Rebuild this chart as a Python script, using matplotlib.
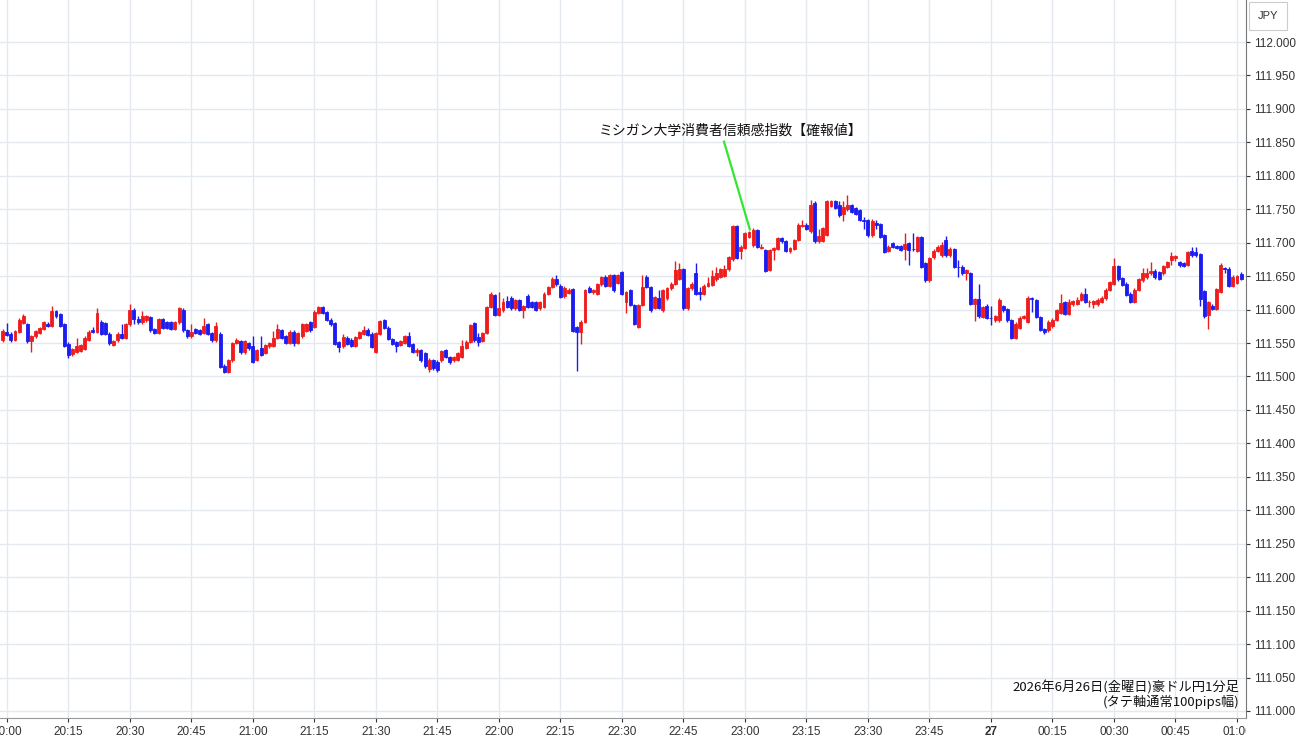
import numpy as np
import matplotlib.pyplot as plt
from matplotlib.transforms import Bbox, TransformedBbox

# 豪ドル円 1分足 (19:59 -> 01:01) ; prices in 0.001 JPY above 111.000
open_pts = [
    554, 567, 564, 555, 567, 580, 578, 553, 560, 565,
    571, 579, 576, 598, 593, 578, 549, 533, 537, 538,
    541, 555, 569, 567, 582, 580, 564, 547, 554, 564,
    558, 578, 600, 586, 581, 584, 589, 571, 565, 586,
    581, 581, 571, 581, 600, 569, 560, 571, 569, 565,
    578, 565, 554, 564, 516, 507, 524, 550, 553, 536,
    550, 545, 525, 542, 535, 545, 546, 558, 569, 560,
    550, 567, 550, 560, 568, 581, 574, 595, 604, 596,
    585, 580, 551, 545, 558, 555, 546, 558, 564, 570,
    564, 537, 564, 584, 573, 556, 551, 547, 550, 560,
    548, 537, 539, 535, 511, 524, 522, 524, 539, 529,
    524, 525, 529, 543, 552, 580, 559, 553, 565, 604,
    622, 592, 599, 613, 618, 602, 614, 600, 621, 611,
    611, 602, 604, 624, 634, 646, 636, 620, 625, 631,
    574, 567, 582, 633, 627, 624, 638, 649, 636, 651,
    640, 656, 612, 629, 607, 574, 607, 649, 634, 603,
    618, 599, 617, 632, 639, 646, 660, 602, 632, 654,
    626, 624, 636, 637, 645, 649, 650, 660, 675, 725,
    687, 692, 709, 696, 719, 692, 689, 659, 689, 691,
    707, 702, 688, 691, 704, 725, 727, 717, 760, 702,
    703, 712, 755, 762, 756, 743, 750, 756, 752, 749,
    734, 734, 711, 730, 728, 711, 688, 699, 695, 695,
    690, 699, 691, 688, 708, 669, 644, 678, 688, 681,
    704, 681, 690, 664, 664, 654, 654, 609, 616, 589,
    606, 588, 584, 584, 605, 601, 584, 558, 573, 588,
    582, 617, 614, 589, 571, 569, 575, 585, 595, 611,
    594, 608, 609, 615, 624, 611, 609, 609, 612, 617,
    630, 639, 665, 647, 639, 624, 612, 630, 644, 648,
    654, 658, 656, 654, 664, 674, 677, 671, 669, 667,
    688, 686, 683, 628, 592, 606, 601, 627, 662, 661,
    636, 640, 653,
]
close_pts = [
    568, 562, 555, 568, 585, 590, 553, 560, 568, 572,
    581, 576, 598, 590, 576, 546, 532, 541, 546, 547,
    558, 567, 567, 595, 564, 564, 550, 553, 564, 558,
    578, 600, 586, 582, 590, 590, 569, 565, 586, 573,
    573, 571, 581, 602, 569, 560, 567, 565, 564, 576,
    564, 554, 576, 514, 507, 524, 550, 554, 536, 553,
    542, 522, 539, 532, 547, 550, 558, 571, 558, 550,
    567, 550, 565, 578, 578, 569, 597, 604, 595, 585,
    578, 549, 544, 559, 549, 546, 559, 566, 570, 562,
    544, 565, 583, 573, 556, 549, 546, 553, 560, 546,
    537, 540, 524, 515, 525, 512, 509, 538, 529, 521,
    529, 535, 545, 552, 577, 554, 552, 565, 604, 624,
    592, 603, 612, 604, 602, 614, 600, 605, 604, 604,
    600, 611, 624, 634, 646, 638, 619, 632, 630, 568,
    567, 582, 629, 627, 629, 638, 648, 636, 651, 629,
    651, 624, 626, 607, 579, 607, 634, 634, 599, 619,
    603, 629, 632, 639, 659, 660, 602, 632, 639, 624,
    624, 636, 640, 650, 655, 660, 661, 678, 725, 677,
    694, 714, 716, 719, 694, 694, 658, 689, 692, 707,
    702, 688, 692, 704, 727, 727, 721, 756, 702, 710,
    722, 762, 762, 752, 741, 754, 757, 746, 743, 734,
    733, 711, 733, 727, 709, 686, 694, 694, 692, 689,
    698, 689, 690, 708, 664, 644, 677, 688, 694, 697,
    681, 691, 664, 663, 654, 659, 609, 616, 590, 604,
    588, 587, 590, 614, 599, 584, 558, 579, 588, 590,
    618, 616, 589, 570, 566, 582, 585, 599, 610, 594,
    611, 613, 615, 624, 612, 612, 613, 615, 618, 630,
    641, 665, 645, 637, 622, 612, 630, 645, 654, 654,
    658, 648, 646, 665, 671, 680, 680, 666, 665, 686,
    681, 681, 616, 590, 611, 601, 631, 666, 660, 636,
    649, 650, 646,
]
high_pts = [
    571, 580, 566, 570, 588, 593, 580, 562, 570, 574,
    583, 581, 605, 600, 595, 580, 551, 543, 558, 549,
    560, 569, 574, 602, 584, 582, 566, 555, 566, 578,
    580, 608, 602, 590, 598, 592, 591, 573, 588, 588,
    583, 583, 583, 604, 602, 571, 578, 573, 571, 587,
    580, 567, 581, 566, 518, 526, 552, 558, 555, 555,
    552, 560, 541, 560, 549, 552, 568, 578, 571, 562,
    570, 569, 567, 580, 580, 583, 599, 606, 606, 598,
    587, 582, 553, 564, 560, 557, 561, 568, 576, 572,
    566, 567, 585, 586, 575, 558, 553, 555, 562, 566,
    550, 542, 541, 537, 527, 526, 524, 540, 541, 531,
    531, 537, 554, 554, 579, 582, 565, 567, 606, 626,
    624, 627, 618, 620, 620, 616, 616, 607, 623, 613,
    613, 613, 626, 636, 648, 652, 638, 636, 632, 633,
    576, 584, 631, 635, 631, 640, 650, 651, 653, 653,
    653, 658, 628, 631, 609, 609, 652, 651, 636, 621,
    629, 631, 634, 641, 672, 669, 662, 634, 641, 670,
    634, 638, 649, 659, 664, 662, 666, 680, 727, 727,
    696, 716, 718, 722, 721, 698, 691, 691, 694, 709,
    709, 704, 694, 706, 729, 734, 729, 764, 762, 721,
    724, 764, 764, 764, 763, 762, 772, 758, 754, 751,
    739, 736, 735, 734, 730, 713, 696, 701, 697, 697,
    714, 701, 714, 710, 710, 671, 679, 690, 696, 701,
    710, 693, 692, 674, 666, 661, 656, 618, 639, 606,
    608, 606, 592, 618, 607, 603, 586, 581, 590, 592,
    620, 619, 616, 591, 573, 584, 587, 601, 624, 613,
    616, 615, 619, 626, 632, 614, 615, 617, 620, 632,
    643, 677, 667, 649, 641, 626, 632, 647, 662, 662,
    671, 660, 658, 667, 673, 686, 682, 673, 671, 688,
    694, 694, 685, 630, 613, 608, 633, 669, 664, 663,
    651, 652, 656,
]
low_pts = [
    552, 560, 552, 553, 565, 578, 550, 536, 558, 563,
    569, 574, 574, 588, 574, 544, 528, 530, 535, 536,
    539, 553, 565, 565, 562, 562, 547, 546, 552, 556,
    556, 576, 578, 578, 579, 582, 567, 563, 563, 571,
    571, 569, 569, 579, 567, 558, 558, 563, 562, 563,
    562, 552, 552, 512, 505, 505, 522, 548, 534, 534,
    540, 520, 523, 530, 533, 543, 544, 556, 556, 548,
    548, 545, 548, 558, 566, 567, 572, 593, 593, 583,
    576, 547, 536, 543, 547, 544, 544, 556, 562, 560,
    542, 535, 562, 571, 554, 547, 536, 545, 548, 544,
    535, 530, 522, 513, 507, 510, 507, 522, 527, 519,
    522, 523, 527, 541, 550, 552, 546, 551, 563, 602,
    590, 590, 597, 602, 600, 600, 598, 587, 602, 602,
    598, 600, 602, 622, 632, 636, 617, 618, 623, 566,
    508, 549, 580, 625, 624, 622, 636, 634, 634, 627,
    638, 622, 595, 605, 577, 572, 605, 632, 597, 601,
    601, 597, 615, 630, 637, 644, 600, 600, 630, 622,
    614, 622, 634, 635, 643, 647, 648, 658, 673, 675,
    676, 690, 707, 694, 692, 690, 656, 657, 674, 689,
    700, 686, 684, 689, 702, 723, 719, 715, 700, 700,
    701, 710, 753, 750, 739, 733, 748, 744, 741, 732,
    721, 709, 709, 720, 707, 684, 686, 692, 690, 687,
    674, 666, 688, 686, 662, 642, 642, 676, 686, 679,
    679, 679, 662, 648, 652, 644, 607, 583, 588, 587,
    586, 577, 582, 582, 597, 582, 556, 556, 571, 586,
    580, 597, 587, 568, 564, 567, 573, 583, 593, 592,
    592, 606, 607, 613, 610, 604, 603, 605, 610, 615,
    628, 637, 643, 635, 620, 610, 610, 628, 642, 646,
    652, 646, 644, 652, 662, 666, 672, 664, 663, 665,
    679, 679, 606, 588, 571, 599, 599, 625, 655, 634,
    634, 638, 644,
]

time_labels = ["20:00", "20:15", "20:30", "20:45", "21:00", "21:15", "21:30",
               "21:45", "22:00", "22:15", "22:30", "22:45", "23:00", "23:15",
               "23:30", "23:45", "27", "00:15", "00:30", "00:45", "01:00"]

event_label = "ミシガン大学消費者信頼感指数【確報値】"
event_line_x = [174.9, 181.2]          # minutes after 20:00
event_line_y = [111.851, 111.720]
caption = "2026年6月26日(金曜日)豪ドル円1分足\n(タテ軸通常100pips幅)"

o = 111 + np.array(open_pts) / 1000
c = 111 + np.array(close_pts) / 1000
h = 111 + np.array(high_pts) / 1000
l = 111 + np.array(low_pts) / 1000
t = np.arange(len(c)) - 1     # minutes after 20:00

plt.rcParams['font.family'] = ['Noto Sans CJK JP', 'DejaVu Sans']

W, H = 1300, 745
fig = plt.figure(figsize=(13, 7.45), dpi=100)
ax = fig.add_axes([0, 1 - 718 / H, 1246 / W, 718 / H])

up = c >= o
colors = np.where(up, '#ee1c1c', '#1c1cee')
ax.vlines(t, l, h, colors=colors, linewidth=1, zorder=3)
ax.bar(t, np.abs(c - o), bottom=np.minimum(o, c), width=0.72,
       color=colors, edgecolor=colors, linewidth=0.6, zorder=4)

ax.set_xlim(-1.66, 302.2)
ax.set_ylim(110.9895, 112.0628)

yt = np.arange(111.0, 112.001, 0.05)
ax.set_yticks(yt)
ax.set_yticklabels([f"{v:.3f}" for v in yt])
ax.yaxis.tick_right()
ax.set_xticks(np.arange(0, 301, 15))
ax.set_xticklabels(time_labels)

ax.tick_params(axis='both', labelsize=8.5, colors='#333333', length=3, width=0.8)
ax.tick_params(axis='y', pad=3)
ax.tick_params(axis='x', pad=2.5)
for lab in ax.get_yticklabels() + ax.get_xticklabels():
    lab.set_family(['Liberation Sans', 'DejaVu Sans'])
clip = TransformedBbox(Bbox([[0, 0], [1246 / W, 1]]), fig.transFigure)
for lab in ax.get_xticklabels():
    lab.set_clip_box(clip)
    lab.set_clip_on(True)
    if lab.get_text() == "27":
        lab.set_fontweight('bold')

ax.grid(True, color='#e3e9ef', linewidth=1, zorder=0)
ax.set_axisbelow(True)
for side in ['top', 'left']:
    ax.spines[side].set_visible(False)
ax.spines['right'].set_color('#777777')
ax.spines['bottom'].set_color('#999999')

# event annotation
ax.plot(event_line_x, event_line_y, color='#33e633', lw=1.6, zorder=5)
ax.text(176.6, 111.868, event_label, ha='center', va='center',
        fontsize=10, color='#111111', zorder=6)

ax.text(0.995, 0.012, caption, transform=ax.transAxes, ha='right', va='bottom',
        fontsize=9.5, color='#111111', linespacing=1.05)

fig.text(1268 / W, 1 - 16 / H, "JPY", ha='center', va='center', fontsize=8,
         color='#333333', family=['Liberation Sans', 'DejaVu Sans'],
         bbox=dict(boxstyle='square,pad=0.8', fc='white', ec='#cccccc', lw=0.8))

fig.savefig("out.png", dpi=100)
